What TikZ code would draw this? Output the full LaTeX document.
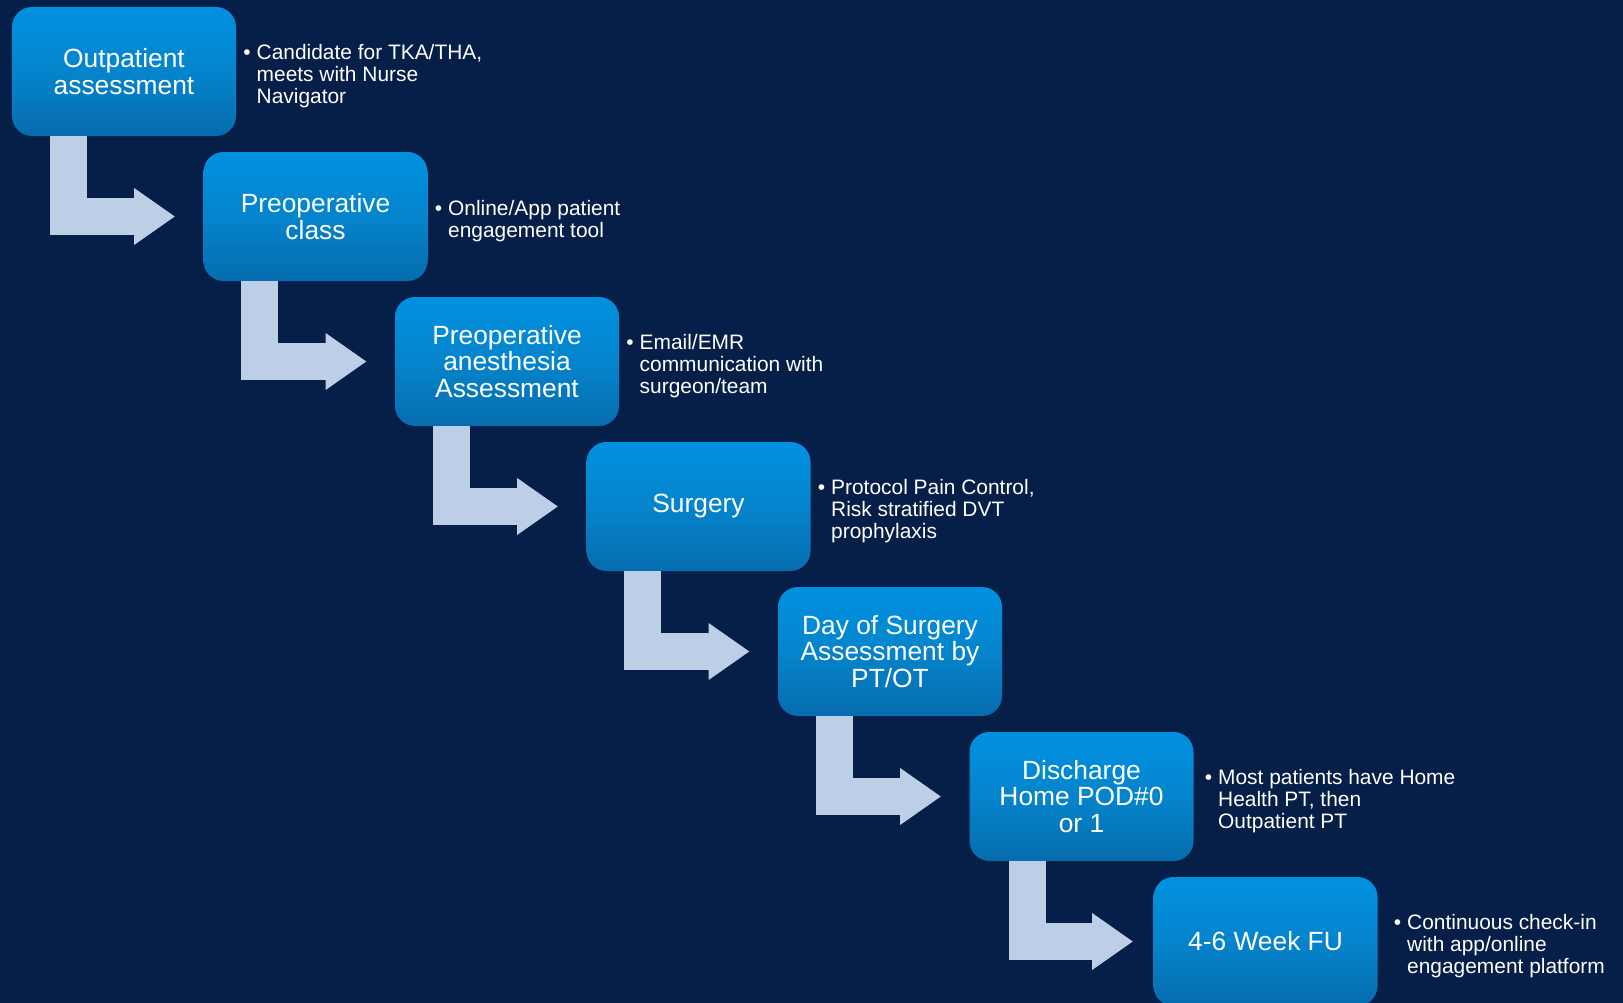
\documentclass[tikz,border=0pt]{standalone}
\usepackage{fontspec}
\setmainfont{Liberation Sans}
\usetikzlibrary{arrows.meta}
\definecolor{bg}{HTML}{051F49}
\definecolor{boxtop}{HTML}{0091E1}
\definecolor{boxmid}{HTML}{0584CC}
\definecolor{boxbot}{HTML}{066CAD}
\definecolor{flowcol}{HTML}{BDCFE7}
\begin{document}
\begin{tikzpicture}[font=\fontsize{15}{15.3}\selectfont,
    stage/.style={rounded corners=0.4cm, minimum width=4.48cm, minimum height=2.58cm, align=center, inner sep=0pt,
      text=white, top color=boxtop, bottom color=boxbot, middle color=boxmid},
    note/.style={anchor=west, align=left, inner sep=0pt, xshift=0.4cm, yshift=-0.1cm, text=white, font=\fontsize{11.9}{12.5}\selectfont},
    flow/.style={draw=flowcol, line width=0.74cm, line join=miter, -{Triangle[width=1.08cm, length=0.82cm]}}]
    \useasboundingbox (0,0) rectangle (32.46,-20.06);
    \fill[bg] (0,0) rectangle (32.46,-20.06);
    % steps
    \node[stage] (out) at (2.48,-1.43)   {Outpatient\\assessment};
    \node[stage] (cls) at (6.31,-4.33)   {Preoperative\\class};
    \node[stage] (ane) at (10.14,-7.23)  {Preoperative\\anesthesia\\Assessment};
    \node[stage] (sur) at (13.97,-10.13) {Surgery};
    \node[stage] (dos) at (17.80,-13.03) {Day of Surgery\\Assessment by\\PT/OT};
    \node[stage] (dis) at (21.63,-15.93) {Discharge\\Home POD\#0\\or 1};
    \node[stage] (fu)  at (25.31,-18.83) {4-6 Week FU};
    % notes
    \node[note] (nout) at (out.east) {\llap{\textbullet\hspace{0.12cm}}Candidate for TKA/THA,\\meets with Nurse\\Navigator};
    \node[note] (ncls) at (cls.east) {\llap{\textbullet\hspace{0.12cm}}Online/App patient\\engagement tool};
    \node[note] (nane) at (ane.east) {\llap{\textbullet\hspace{0.12cm}}Email/EMR\\communication with\\surgeon/team};
    \node[note] (nsur) at (sur.east) {\llap{\textbullet\hspace{0.12cm}}Protocol Pain Control,\\Risk stratified DVT\\prophylaxis};
    \node[note, xshift=0.08cm] (ndis) at (dis.east) {\llap{\textbullet\hspace{0.12cm}}Most patients have Home\\Health PT, then\\Outpatient PT};
    \node[note, xshift=0.18cm] (nfu)  at (fu.east)  {\llap{\textbullet\hspace{0.12cm}}Continuous check-in\\with app/online\\engagement platform};
    % bent arrows
    \draw[flow] ([xshift=1.13cm]out.south west) |- ([xshift=-0.56cm]cls.west);
    \draw[flow] ([xshift=1.13cm]cls.south west) |- ([xshift=-0.56cm]ane.west);
    \draw[flow] ([xshift=1.13cm]ane.south west) |- ([xshift=-0.56cm]sur.west);
    \draw[flow] ([xshift=1.13cm]sur.south west) |- ([xshift=-0.56cm]dos.west);
    \draw[flow] ([xshift=1.13cm]dos.south west) |- ([xshift=-0.56cm]dis.west);
    \draw[flow] ([xshift=1.16cm]dis.south west) |- ([xshift=-0.4cm]fu.west);
\end{tikzpicture}
\end{document}
